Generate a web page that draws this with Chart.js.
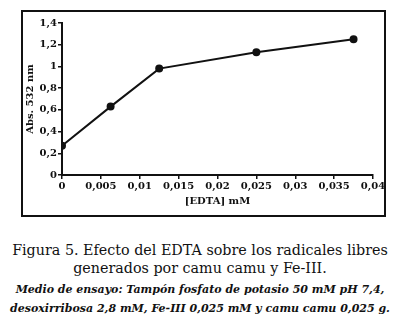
<!DOCTYPE html>
<html>
<head>
<meta charset="utf-8">
<script src="https://cdn.jsdelivr.net/npm/chart.js@4.4.0/dist/chart.umd.min.js"></script>
<style>
  body { margin: 0; background: #fff; width: 400px; height: 324px; overflow: hidden; position: relative; }
  .box { position: absolute; left: 21px; top: 10px; width: 361px; height: 203px; border: 2px solid #111; }
  .wrap { position: absolute; left: 0; top: 0; width: 400px; height: 220px; }
  .cap { position: absolute; left: 0; width: 400px; text-align: center; font-family: "DejaVu Serif", serif; color: #111; white-space: nowrap; }
  .c1 { top: 241px; font-size: 14.3px; line-height: 18px; }
  .c2 { top: 280px; font-size: 11px; line-height: 19px; font-style: italic; font-weight: bold; }
</style>
</head>
<body>
<div class="box"></div>
<div class="wrap"><canvas id="chart" width="400" height="220"></canvas></div>
<div class="cap c1">Figura 5. Efecto del EDTA sobre los radicales libres<br>generados por camu camu y Fe-III.</div>
<div class="cap c2">Medio de ensayo: Tampón fosfato de potasio 50 mM pH 7,4,<br>desoxirribosa 2,8 mM, Fe-III 0,025 mM y camu camu 0,025 g.</div>
<script>
// EDTA concentration (mM) and absorbance at 532 nm
const edta = [0, 0.00625, 0.0125, 0.025, 0.0375];
const absorb = [0.27, 0.63, 0.98, 1.13, 1.25];

const xTickLabels = ["0", "0,005", "0,01", "0,015", "0,02", "0,025", "0,03", "0,035", "0,04"];
const yTickLabels = ["0", "0,2", "0,4", "0,6", "0,8", "1", "1,2", "1,4"];

const tickFont = { family: "DejaVu Serif", size: 10, weight: "bold" };

const ctx = document.getElementById('chart').getContext('2d');
const chart = new Chart(ctx, {
  type: 'scatter',
  data: {
    datasets: [{
      data: edta.map((x, i) => ({ x: x, y: absorb[i] })),
      showLine: true,
      borderColor: '#111',
      backgroundColor: '#111',
      borderWidth: 2,
      pointRadius: 3,
      pointHoverRadius: 3,
      tension: 0
    }]
  },
  options: {
    responsive: false,
    animation: false,
    layout: { padding: { left: 24, right: 27, top: 23, bottom: 13 } },
    plugins: { legend: { display: false }, tooltip: { enabled: false } },
    scales: {
      x: {
        type: 'linear',
        min: 0,
        max: 0.04,
        afterBuildTicks: (scale) => {
          scale.ticks = xTickLabels.map((_, i) => ({ value: i * 0.005 }));
        },
        ticks: {
          color: '#111',
          font: tickFont,
          padding: 1,
          maxRotation: 0,
          autoSkip: false,
          callback: (v, i) => xTickLabels[i]
        },
        grid: { drawOnChartArea: false, tickLength: 4, color: '#111', lineWidth: 1.5 },
        border: { color: '#111', width: 2 },
        title: { display: true, text: '[EDTA] mM', color: '#111', font: tickFont, padding: { top: 2, bottom: 0 } }
      },
      y: {
        min: 0,
        max: 1.4,
        afterBuildTicks: (scale) => {
          scale.ticks = yTickLabels.map((_, i) => ({ value: i * 0.2 }));
        },
        afterFit: (scale) => { scale.width = 38; },
        ticks: {
          color: '#111',
          font: tickFont,
          padding: 1,
          autoSkip: false,
          callback: (v, i) => yTickLabels[i]
        },
        grid: { drawOnChartArea: false, tickLength: 4, color: '#111', lineWidth: 1.5 },
        border: { color: '#111', width: 2 },
        title: { display: true, text: 'Abs. 532 nm', color: '#111', font: tickFont, padding: 0 }
      }
    }
  }
});
</script>
</body>
</html>
